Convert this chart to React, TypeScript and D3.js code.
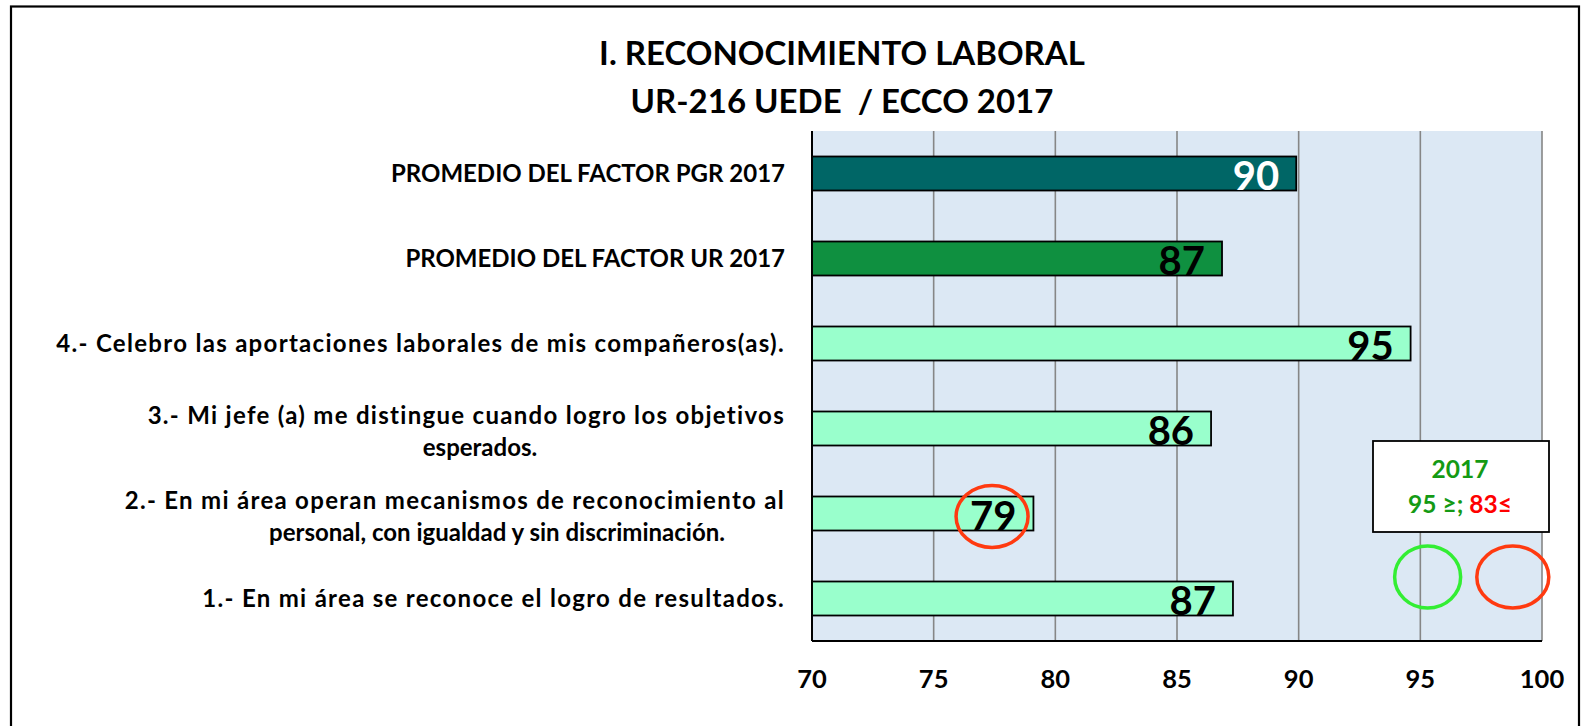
import React from 'react';
import * as d3 from 'd3';

// chart data, top to bottom
const categories = [
  'PROMEDIO DEL FACTOR PGR 2017',
  'PROMEDIO DEL FACTOR UR 2017',
  '4.- Celebro las aportaciones laborales de mis compañeros(as).',
  '3.- Mi jefe (a) me distingue cuando logro los objetivos esperados.',
  '2.- En mi área operan mecanismos de reconocimiento al personal, con igualdad y sin discriminación.',
  '1.- En mi área se reconoce el logro de resultados.',
];
const labelLines = [
  ['PROMEDIO DEL FACTOR PGR 2017'],
  ['PROMEDIO DEL FACTOR UR 2017'],
  ['4.- Celebro las aportaciones laborales de mis compañeros(as).'],
  ['3.- Mi jefe (a) me distingue cuando logro los objetivos', 'esperados.'],
  ['2.- En mi área operan mecanismos de reconocimiento al', 'personal, con igualdad y sin discriminación.'],
  ['1.- En mi área se reconoce el logro de resultados.'],
];
const values = [89.9, 86.85, 94.6, 86.4, 79.1, 87.3];
const barColors = ['#006666', '#0f9040', '#99ffcc', '#99ffcc', '#99ffcc', '#99ffcc'];
const valueColors = ['#ffffff', '#000000', '#000000', '#000000', '#000000', '#000000'];
const ticks = [70, 75, 80, 85, 90, 95, 100];
const titleLines = ['I. RECONOCIMIENTO LABORAL', 'UR-216 UEDE  / ECCO 2017'];
const noteYear = '2017';
const noteGood = '95 ≥; ';
const noteBad = '83≤';

const W = 1585;
const H = 726;
const font = 'Lato, "DejaVu Sans", sans-serif';

export default function App() {
  const x = d3.scaleLinear().domain([70, 100]).range([812, 1542]);
  const y = d3.scaleBand<string>().domain(categories).range([131, 641]).paddingInner(0.6).paddingOuter(0.3);
  const top = 131;
  const bottom = 641;
  const bw = y.bandwidth();
  const labelRight = 785;

  // centre of the second line of wrapped labels
  const secondLineX: Record<number, number> = { 3: 480, 4: 497 };
  // lowercase text needs a little more room to look like the original font
  const spacing = (s: string) => (s === s.toUpperCase() ? 0 : 1.3);

  return (
    <svg width={W} height={H} style={{ position: 'absolute', left: 0, top: 0, background: '#fff' }} fontFamily={font}>
      <rect x={11} y={6.5} width={1568} height={760} fill="#fff" stroke="#000" strokeWidth={2.2} />

      {titleLines.map((t, i) => (
        <text key={t} x={842} y={65 + i * 48} textAnchor="middle" fontSize={33} fontWeight="bold" fill="#000"
          style={{ whiteSpace: 'pre' }}>
          {t}
        </text>
      ))}

      <rect x={x(70)} y={top} width={x(100) - x(70)} height={bottom - top} fill="#dce8f4" />
      {ticks.slice(1).map(t => (
        <line key={t} x1={x(t)} x2={x(t)} y1={top} y2={bottom} stroke="#868686" strokeWidth={1.6} />
      ))}

      {categories.map((c, i) => (
        <rect key={c} x={x(70)} y={y(c)} width={x(values[i]) - x(70)} height={bw}
          fill={barColors[i]} stroke="#000" strokeWidth={1.8} />
      ))}

      <line x1={x(70)} x2={x(70)} y1={top} y2={bottom} stroke="#000" strokeWidth={2} />
      <line x1={x(70)} x2={x(100)} y1={bottom} y2={bottom} stroke="#000" strokeWidth={2} />

      {categories.map((c, i) => (
        <text key={c} x={x(values[i]) - 17} y={(y(c) as number) + bw / 2 + 16}
          textAnchor="end" fontSize={40} fontWeight="bold" fill={valueColors[i]}>
          {Math.round(values[i])}
        </text>
      ))}

      {categories.map((c, i) => {
        const cy = (y(c) as number) + bw / 2;
        const lines = labelLines[i];
        if (lines.length === 1) {
          return (
            <text key={c} x={labelRight} y={cy + 8.5} textAnchor="end" fontSize={24} fontWeight="bold" fill="#000"
              letterSpacing={spacing(lines[0])}>
              {lines[0]}
            </text>
          );
        }
        return (
          <g key={c}>
            <text x={labelRight} y={cy - 4.5} textAnchor="end" fontSize={24} fontWeight="bold" fill="#000"
              letterSpacing={spacing(lines[0])}>{lines[0]}</text>
            <text x={secondLineX[i]} y={cy + 27} textAnchor="middle" fontSize={24} fontWeight="bold" fill="#000">
              {lines[1]}
            </text>
          </g>
        );
      })}

      {ticks.map(t => (
        <text key={t} x={x(t)} y={688} textAnchor="middle" fontSize={25.5} fontWeight="bold" fill="#000">{t}</text>
      ))}

      {/* note box */}
      <rect x={1373} y={441} width={176} height={91} fill="#fff" stroke="#000" strokeWidth={1.8} />
      <text x={1460} y={478} textAnchor="middle" fontSize={24.5} fontWeight="bold" fill="#149a14">{noteYear}</text>
      <text x={1460} y={513} textAnchor="middle" fontSize={24.5} fontWeight="bold" style={{ whiteSpace: 'pre' }}>
        <tspan fill="#149a14">{noteGood}</tspan>
        <tspan fill="#ff0000">{noteBad}</tspan>
      </text>

      {/* highlight circles */}
      <ellipse cx={x(77.4)} cy={(y(categories[4]) as number) + bw / 2 + 3} rx={36} ry={31} fill="none" stroke="#ff3a10" strokeWidth={3.5} />
      <ellipse cx={x(95.3)} cy={577} rx={33} ry={31} fill="none" stroke="#33ee33" strokeWidth={3.5} />
      <ellipse cx={x(98.8)} cy={577} rx={36} ry={31} fill="none" stroke="#ff3a10" strokeWidth={3.5} />
    </svg>
  );
}
